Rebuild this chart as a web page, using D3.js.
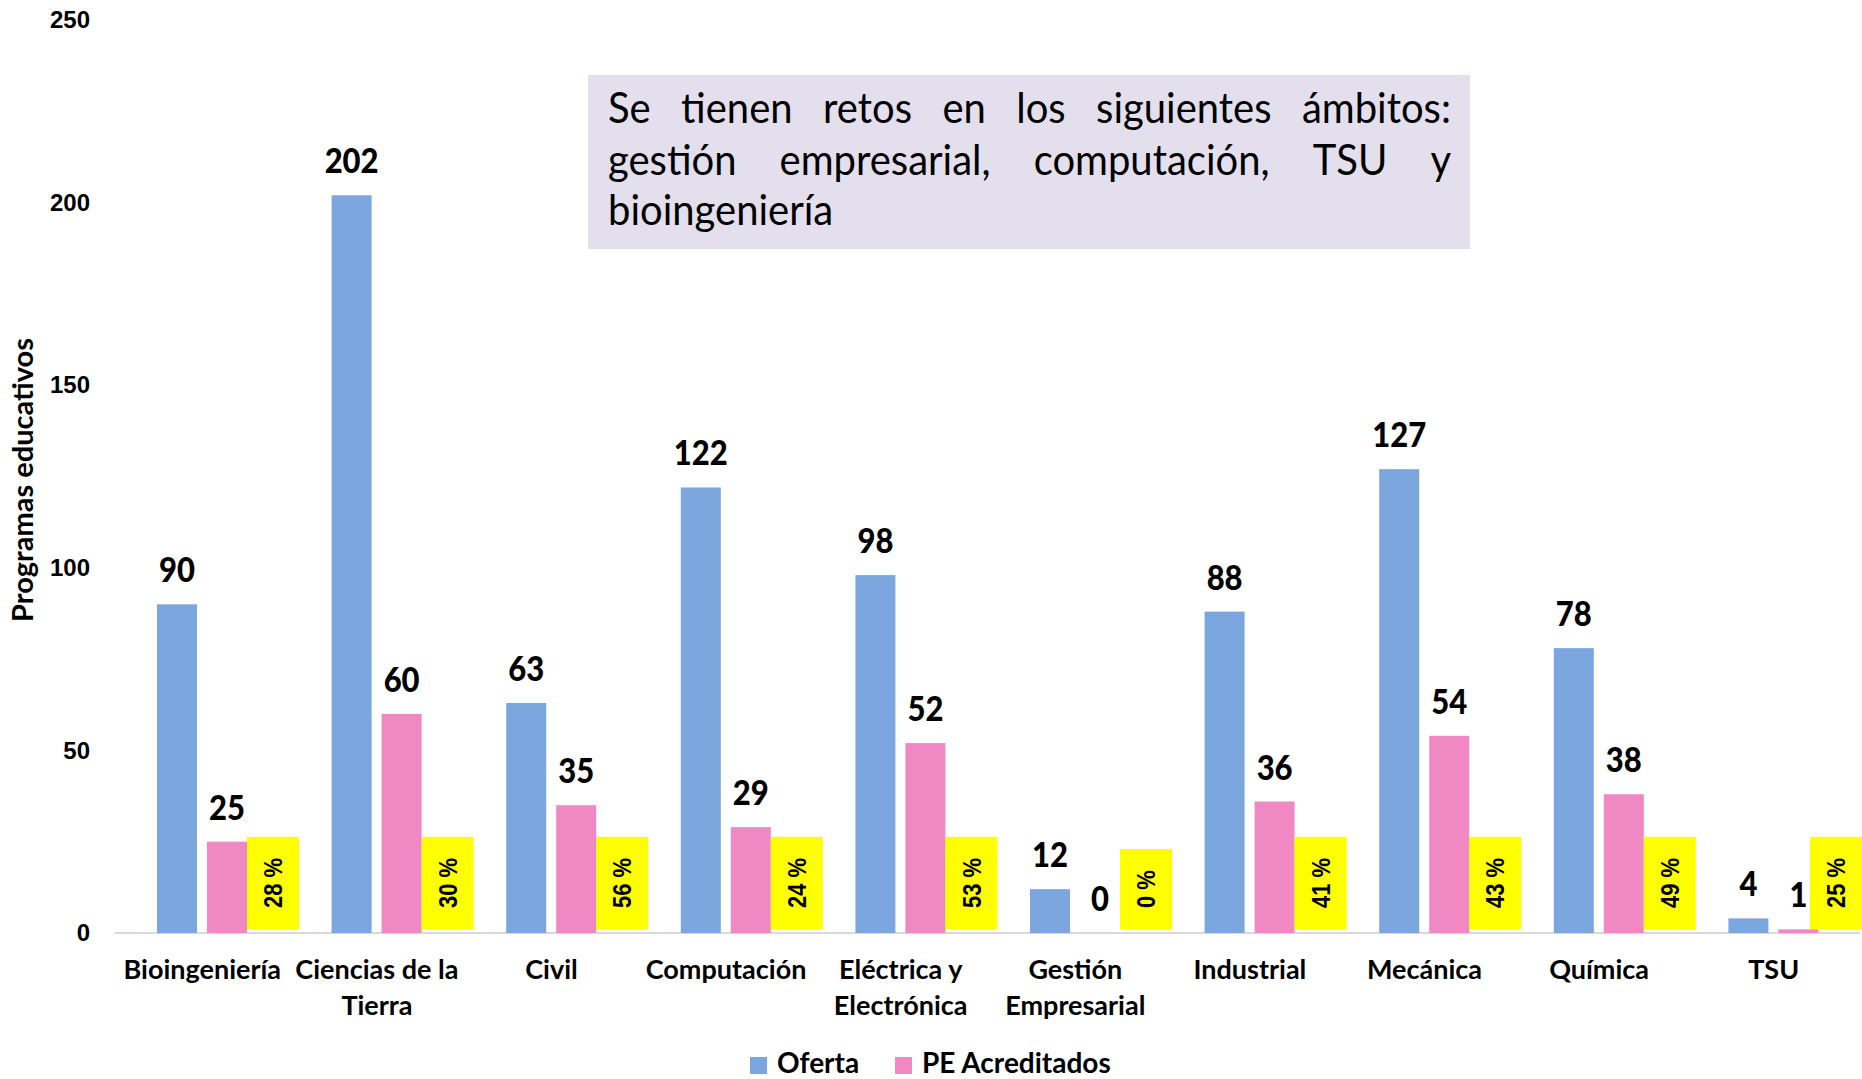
<!DOCTYPE html>
<html>
<head>
<meta charset="utf-8">
<script src="https://cdn.jsdelivr.net/npm/d3@7"></script>
<style>
    body { margin: 0; background: #fff; }
</style>
</head>
<body>
<div id="chart"></div>
<script>
// data
const categories = ["Bioingeniería", "Ciencias de la Tierra", "Civil", "Computación", "Eléctrica y Electrónica",
    "Gestión Empresarial", "Industrial", "Mecánica", "Química", "TSU"];
const categoryLines = [["Bioingeniería"], ["Ciencias de la", "Tierra"], ["Civil"], ["Computación"], ["Eléctrica y", "Electrónica"],
    ["Gestión", "Empresarial"], ["Industrial"], ["Mecánica"], ["Química"], ["TSU"]];
const oferta = [90, 202, 63, 122, 98, 12, 88, 127, 78, 4];
const acreditados = [25, 60, 35, 29, 52, 0, 36, 54, 38, 1];
const porcentajes = ["28 %", "30 %", "56 %", "24 %", "53 %", "0 %", "41 %", "43 %", "49 %", "25 %"];
const yTicks = [0, 50, 100, 150, 200, 250];
const seriesNames = ["Oferta", "PE Acreditados"];
const seriesColors = ["#7BA7DE", "#F088C4"];
const noteLines = [
    ["Se", "tienen", "retos", "en", "los", "siguientes", "ámbitos:"],
    ["gestión", "empresarial,", "computación,", "TSU", "y"],
    ["bioingeniería"]
];

const W = 1862, H = 1079;
const font = "Lato, 'Open Sans', sans-serif";

const svg = d3.select("#chart")
    .append("svg")
    .attr("width", W)
    .attr("height", H);

const x = d3.scaleBand().domain(categories).range([115, 1861]);
const xs = d3.scaleBand().domain(seriesNames).range([42, 132]).paddingInner(0.2);
const y = d3.scaleLinear().domain([0, 250]).range([933, 20]);
const color = d3.scaleOrdinal().domain(seriesNames).range(seriesColors);

// y tick labels (no gridlines in the original)
const yAxis = svg.append("g")
    .attr("transform", "translate(90,0)")
    .call(d3.axisLeft(y).tickValues(yTicks).tickSize(0).tickPadding(0));
yAxis.select(".domain").remove();
yAxis.selectAll("text")
    .attr("font-family", "'Liberation Sans', Arial, sans-serif")
    .attr("font-weight", "bold")
    .attr("font-size", "24px")
    .attr("fill", "#000");

// baseline
svg.append("line")
    .attr("x1", 115).attr("x2", 1860)
    .attr("y1", y(0)).attr("y2", y(0))
    .attr("stroke", "#D9D9D9")
    .attr("stroke-width", 2);

// bars
const rows = categories.map((c, i) => ({ cat: c, values: [oferta[i], acreditados[i]] }));
const groups = svg.selectAll("g.cat")
    .data(rows)
    .enter()
    .append("g")
    .attr("class", "cat")
    .attr("transform", d => `translate(${x(d.cat)},0)`);

groups.selectAll("rect.bar")
    .data(d => d.values.map((v, j) => ({ key: seriesNames[j], value: v })))
    .enter()
    .append("rect")
    .attr("class", "bar")
    .attr("x", d => xs(d.key))
    .attr("width", xs.bandwidth())
    .attr("y", d => y(d.value))
    .attr("height", d => y(0) - y(d.value))
    .attr("fill", d => color(d.key));

groups.selectAll("text.val")
    .data(d => d.values.map((v, j) => ({ key: seriesNames[j], value: v })))
    .enter()
    .append("text")
    .attr("class", "val")
    .attr("transform", d => `translate(${xs(d.key) + xs.bandwidth() / 2},${y(d.value) - 22}) scale(1,1.08)`)
    .attr("text-anchor", "middle")
    .attr("font-family", font)
    .attr("font-weight", 900)
    .attr("font-size", "31px")
    .attr("fill", "#000")
    .text(d => d.value);

// yellow percentage boxes
const boxW = 52;
categories.forEach((c, i) => {
    const g = svg.append("g");
    const t = g.append("text")
        .attr("text-anchor", "middle")
        .attr("dy", "0.36em")
        .attr("font-family", "'Liberation Sans', Arial, sans-serif")
        .attr("font-weight", "bold")
        .attr("font-size", "22px")
        .attr("fill", "#000")
        .text(porcentajes[i]);
    const len = t.node().getComputedTextLength();
    const h = len + 42;
    const bx = Math.min(x(c) + 132, W - boxW);
    const bottom = y(0) - 4;
    g.insert("rect", "text")
        .attr("x", bx)
        .attr("y", bottom - h)
        .attr("width", boxW)
        .attr("height", h)
        .attr("fill", "#FFFF00");
    t.attr("transform", `translate(${bx + boxW / 2},${bottom - h / 2}) rotate(-90) scale(1,1.15)`);
});

// category labels
const catLabels = svg.selectAll("text.cat-label")
    .data(categories)
    .enter()
    .append("text")
    .attr("class", "cat-label")
    .attr("text-anchor", "middle")
    .attr("font-family", font)
    .attr("font-weight", "bold")
    .attr("font-size", "27px")
    .attr("fill", "#000");
catLabels.selectAll("tspan")
    .data((d, i) => categoryLines[i].map(l => ({ line: l, cat: d })))
    .enter()
    .append("tspan")
    .attr("x", d => x(d.cat) + x.bandwidth() / 2)
    .attr("y", (d, j) => 979 + j * 36)
    .text(d => d.line);

// y axis title
svg.append("text")
    .attr("transform", "translate(33,480) rotate(-90)")
    .attr("text-anchor", "middle")
    .attr("font-family", font)
    .attr("font-weight", "bold")
    .attr("font-size", "29px")
    .attr("fill", "#000")
    .text("Programas educativos");

// legend
const legendX = [750, 895];
seriesNames.forEach((s, i) => {
    svg.append("rect")
        .attr("x", legendX[i]).attr("y", 1057)
        .attr("width", 17).attr("height", 17)
        .attr("fill", color(s));
    svg.append("text")
        .attr("x", legendX[i] + 27).attr("y", 1073)
        .attr("font-family", font)
        .attr("font-weight", "bold")
        .attr("font-size", "28px")
        .attr("fill", "#000")
        .text(s);
});

// note box with justified text
svg.append("rect")
    .attr("x", 588).attr("y", 75)
    .attr("width", 882).attr("height", 174)
    .attr("fill", "#E4DFEC");

const noteLeft = 608, noteRight = 1451;
const noteBase = [123, 175, 225];
noteLines.forEach((words, li) => {
    const texts = words.map(w => svg.append("text")
        .attr("font-family", font)
        .attr("font-size", "40px")
        .attr("fill", "#000")
        .text(w));
    const widths = texts.map(t => t.node().getComputedTextLength());
    const total = d3.sum(widths);
    const last = li === noteLines.length - 1;
    const gap = (!last && words.length > 1) ? (noteRight - noteLeft - total) / (words.length - 1) : 10;
    let cx = noteLeft;
    texts.forEach((t, k) => {
        t.attr("transform", `translate(${cx},${noteBase[li]}) scale(1,1.07)`);
        cx += widths[k] + gap;
    });
});
</script>
</body>
</html>
